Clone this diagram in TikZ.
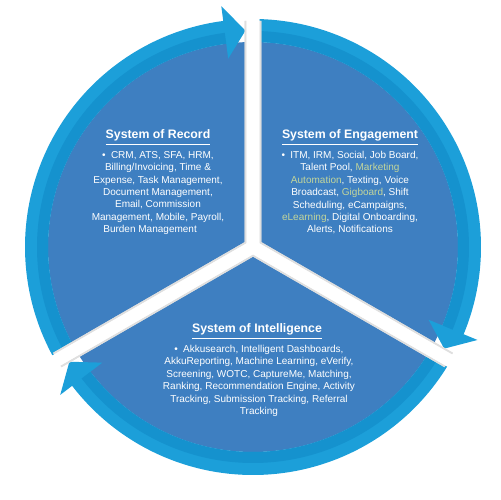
\documentclass[tikz,border=0pt]{standalone}
\usepackage{fontspec}
\setmainfont{Liberation Sans}
\usetikzlibrary{calc}
\definecolor{diskblue}{HTML}{3E7FC1}
\definecolor{ringblue}{HTML}{1C9FD9}
\definecolor{ringdark}{HTML}{1592CE}
\definecolor{hlgreen}{HTML}{C3D69B}

\begin{document}
\begin{tikzpicture}[x=0.02cm,y=0.02cm,
  sectitle/.style={text=white,font=\fontsize{7}{8}\selectfont\bfseries,inner sep=0pt,anchor=base},
  sectext/.style={text=white,font=\fontsize{5.7}{7.05}\selectfont,align=center,inner sep=0pt,anchor=north},
  gapedge/.style={draw=gray!25,line width=9.5pt,line join=miter},
  gapfill/.style={draw=white,line width=7.2pt,line join=miter}]
\useasboundingbox (0,0) rectangle (500,500);
\coordinate (c) at (253,253);
% disk
\fill[diskblue] (c) circle (205);
% ring arrows (start / arrow base / tip)
\foreach \s/\b/\t in {90/-22.5/-28, -30/-142.5/-148, 210/97.5/92} {
  \fill[ringblue] ($(c)+(\s:228)$) arc[start angle=\s,end angle=\b,radius=228]
    -- ($(c)+(\b:243)$) -- ($(c)+(\t:216.5)$) -- ($(c)+(\b:190)$) -- ($(c)+(\b:205)$)
    arc[start angle=\b,end angle=\s,radius=205] -- cycle;
  \fill[ringdark] ($(c)+(\s:216)$) arc[start angle=\s,end angle=\b,radius=216]
    -- ($(c)+(\b:205)$) arc[start angle=\b,end angle=\s,radius=205] -- cycle;
}
% dividers
\foreach \a/\bb in {90/-30, -30/210, 210/90}
  \draw[gapedge] ($(c)+(\a:226)$) -- (c) -- ($(c)+(\bb:226)$);
\foreach \a/\bb in {90/-30, -30/210, 210/90}
  \draw[gapfill] ($(c)+(\a:232)$) -- (c) -- ($(c)+(\bb:232)$);

% texts
\node[sectitle] (rectitle) at (158,361) {\underline{System of Record}};
\node[sectext] (recbody) at (158,349) {\textbullet\hspace{3pt}CRM, ATS, SFA, HRM,\\
  Billing/Invoicing, Time \&\\
  Expense, Task Management,\\
  Document Management,\\
  Email, Commission\\
  Management, Mobile, Payroll,\\
  Burden Management\rule{9pt}{0pt}};

\node[sectitle] (engtitle) at (350,361) {\underline{System of Engagement}};
\node[sectext] (engbody) at (350,349) {\textbullet\hspace{3pt}ITM, IRM, Social, Job Board,\\
  Talent Pool, \textcolor{hlgreen}{Marketing}\\
  \textcolor{hlgreen}{Automation}, Texting, Voice\\
  Broadcast, \textcolor{hlgreen}{Gigboard}, Shift\\
  Scheduling, eCampaigns,\\
  \textcolor{hlgreen}{eLearning}, Digital Onboarding,\\
  Alerts, Notifications};

\node[sectitle] (inttitle) at (257,167) {\underline{System of Intelligence}};
\node[sectext] (intbody) at (259,155) {\textbullet\hspace{3pt}Akkusearch, Intelligent Dashboards,\\
  AkkuReporting, Machine Learning, eVerify,\\
  Screening, WOTC, CaptureMe, Matching,\\
  Ranking, Recommendation Engine, Activity\\
  Tracking, Submission Tracking, Referral\\
  Tracking};
\end{tikzpicture}
\end{document}
